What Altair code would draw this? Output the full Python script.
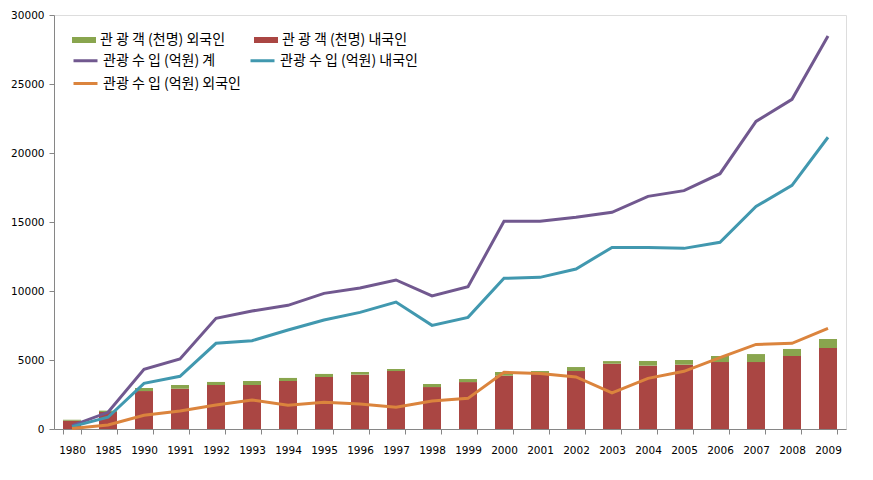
import altair as alt
import pandas as pd

years = ["1980", "1985", "1990", "1991", "1992", "1993", "1994", "1995", "1996", "1997", "1998",
         "1999", "2000", "2001", "2002", "2003", "2004", "2005", "2006", "2007", "2008", "2009"]

# 관광객 (천명)
visitors_domestic = [600, 1230, 2750, 2920, 3190, 3190, 3480, 3770, 3940, 4200, 3040,
                     3400, 3860, 4030, 4200, 4730, 4590, 4660, 4850, 4850, 5290, 5870]
visitors_foreign = [70, 100, 220, 270, 220, 290, 220, 220, 190, 150, 220,
                    220, 270, 170, 290, 190, 340, 340, 440, 580, 510, 650]

# 관광수입 (억원)
revenue_total = [240, 1210, 4320, 5070, 8020, 8550, 8960, 9830, 10220, 10800, 9640,
                 10310, 15050, 15050, 15340, 15700, 16860, 17270, 18500, 22290, 23890, 28480]
revenue_domestic = [170, 850, 3310, 3820, 6210, 6400, 7170, 7900, 8450, 9200, 7510,
                    8090, 10920, 10990, 11590, 13160, 13160, 13090, 13530, 16130, 17660, 21140]
revenue_foreign = [30, 290, 990, 1300, 1740, 2100, 1720, 1930, 1810, 1570, 2030,
                   2220, 4110, 4030, 3770, 2610, 3670, 4180, 5170, 6130, 6210, 7300]

bar_names = ["관 광 객 (천명) 외국인", "관 광 객 (천명) 내국인"]
bar_colors = ["#89A54E", "#AA4643"]
# order chosen so the two-column legend reads: 계, 내국인 / 외국인
line_names = ["관광 수 입 (억원) 계", "관광 수 입 (억원) 외국인", "관광 수 입 (억원) 내국인"]
line_colors = ["#71588F", "#DB843D", "#4198AF"]

bar_rows = []
for i, y in enumerate(years):
    bar_rows.append({"year": y, "series": bar_names[1], "value": visitors_domestic[i], "ord": 0})
    bar_rows.append({"year": y, "series": bar_names[0], "value": visitors_foreign[i], "ord": 1})
bars_df = pd.DataFrame(bar_rows)

line_rows = []
for i, y in enumerate(years):
    line_rows.append({"year": y, "series": line_names[0], "value": revenue_total[i]})
    line_rows.append({"year": y, "series": line_names[2], "value": revenue_domestic[i]})
    line_rows.append({"year": y, "series": line_names[1], "value": revenue_foreign[i]})
lines_df = pd.DataFrame(line_rows)

xscale = alt.Scale(domain=years, paddingInner=0.5, paddingOuter=0.25)
xaxis = alt.Axis(title=None, labelAngle=0, tickBand="extent", tickSize=5, labelPadding=11,
                 labelFont="DejaVu Sans", labelFontSize=10.5, labelColor="#000000",
                 domainColor="#868686", tickColor="#868686", grid=False)
yscale = alt.Scale(domain=[0, 30000], nice=False)
yaxis = alt.Axis(title=None, values=[0, 5000, 10000, 15000, 20000, 25000, 30000], tickSize=5,
                 format="d", labelPadding=5, labelFont="DejaVu Sans", labelFontSize=10.5,
                 labelColor="#000000", domainColor="#868686", tickColor="#868686", grid=False)

rect_path = "M-1,-0.25H1V0.25H-1Z"
line_path = "M-1,0L1,0"

bars = alt.Chart(bars_df).mark_bar().encode(
    x=alt.X("year:N", scale=xscale, axis=xaxis),
    y=alt.Y("value:Q", stack="zero", scale=yscale, axis=yaxis),
    fill=alt.Fill("series:N", scale=alt.Scale(domain=bar_names, range=bar_colors),
                  legend=alt.Legend(title=None, orient="none", legendX=18, legendY=13,
                                    columns=2, columnPadding=28, gridAlign="all",
                                    symbolType=rect_path, symbolSize=576, symbolStrokeWidth=0,
                                    labelFont="Noto Sans CJK KR", labelFontSize=14,
                                    labelColor="#000000", labelLimit=300, padding=0,
                                    rowPadding=2, labelOffset=4)),
    order=alt.Order("ord:Q"),
)

lines = alt.Chart(lines_df).mark_line(strokeWidth=3).encode(
    x=alt.X("year:N", scale=xscale, axis=xaxis),
    y=alt.Y("value:Q", scale=yscale, axis=yaxis),
    stroke=alt.Stroke("series:N", scale=alt.Scale(domain=line_names, range=line_colors),
                      legend=alt.Legend(title=None, orient="none", legendX=18, legendY=32,
                                        columns=2, columnPadding=3, gridAlign="all",
                                        symbolType=line_path, symbolSize=576, symbolStrokeWidth=3,
                                        labelFont="Noto Sans CJK KR", labelFontSize=14,
                                        labelColor="#000000", labelLimit=300, padding=0,
                                        rowPadding=2, labelOffset=4)),
    detail="series:N",
)

chart = alt.layer(bars, lines).properties(
    width=792, height=414,
    autosize=alt.AutoSizeParams(type="none"),
    padding={"left": 46, "top": 7, "right": 19, "bottom": 40},
).configure_view(stroke=None).configure(background="white")

chart.save("out.html", embed_options={"renderer": "svg", "actions": False})
